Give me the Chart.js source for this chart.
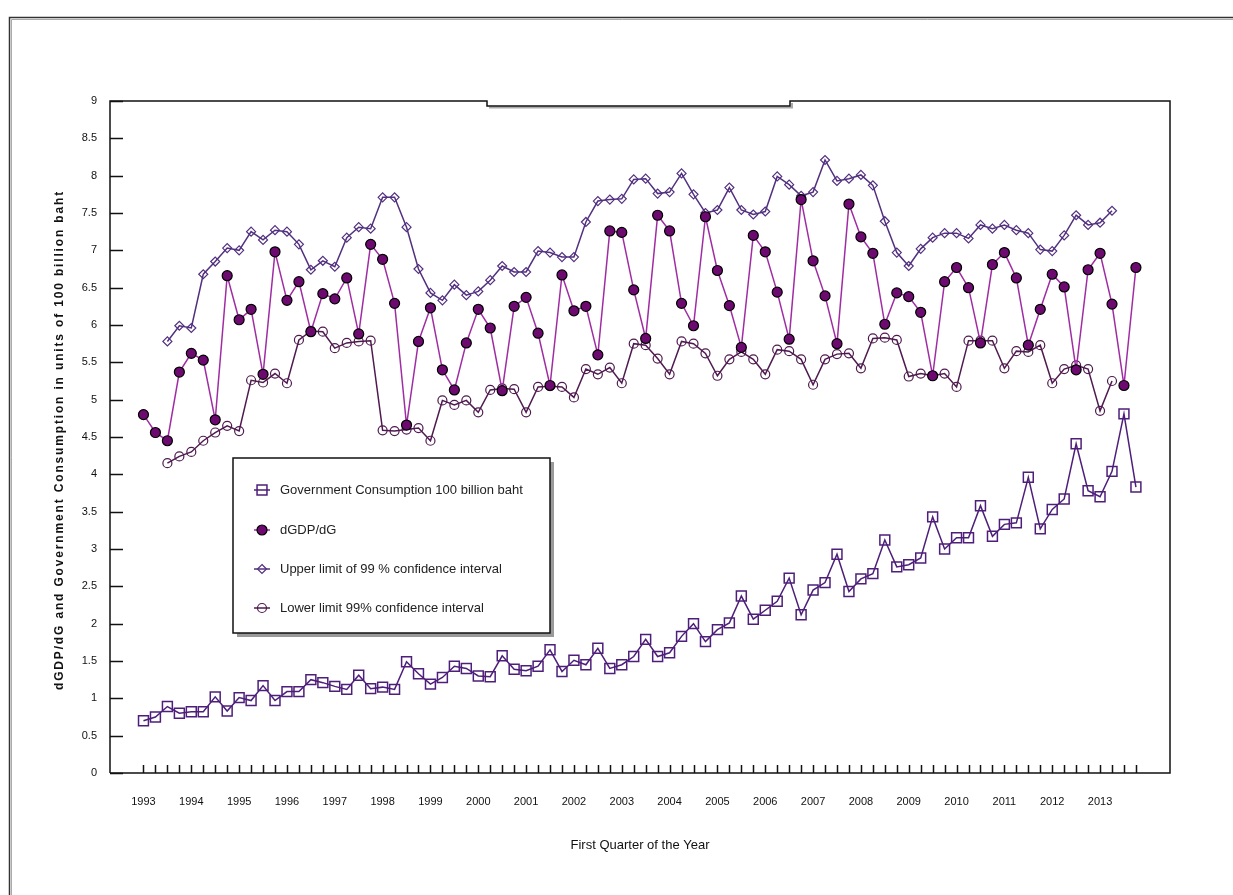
<!DOCTYPE html>
<html>
<head>
<meta charset="utf-8">
<script src="https://cdn.jsdelivr.net/npm/chart.js@4.4.0/dist/chart.umd.min.js"></script>
<style>
  html, body { margin: 0; padding: 0; background: #fff; }
  canvas { display: block; }
</style>
</head>
<body>
<canvas id="chart" width="1233" height="895"></canvas>
<script>
// Year labels, one per first quarter
const years = ['1993', '1994', '1995', '1996', '1997', '1998', '1999', '2000', '2001', '2002', '2003',
  '2004', '2005', '2006', '2007', '2008', '2009', '2010', '2011', '2012', '2013'];

// Quarterly series (1993 Q1 .. 2013 Q4)
const govConsumption = [
  0.70, 0.75, 0.89, 0.80, 0.82, 0.82, 1.02, 0.83, 1.01, 0.97, 1.17, 0.97, 1.09, 1.09, 1.25, 1.21,
  1.16, 1.12, 1.31, 1.13, 1.15, 1.12, 1.49, 1.33, 1.19, 1.28,
  1.43, 1.40, 1.30, 1.29, 1.57, 1.39, 1.37, 1.43, 1.65, 1.36, 1.51, 1.45, 1.67, 1.40, 1.45, 1.56,
  1.79, 1.56, 1.61, 1.83, 2.00, 1.76, 1.92, 2.01, 2.37, 2.06, 2.18, 2.30,
  2.61, 2.12, 2.45, 2.55, 2.93, 2.43, 2.60, 2.67, 3.12, 2.76, 2.79, 2.88, 3.43, 3.00, 3.15, 3.15,
  3.58, 3.17, 3.33, 3.35, 3.96, 3.27, 3.53, 3.67, 4.41, 3.78, 3.70, 4.04, 4.81, 3.83
];

const dGdpDg = [
  4.80, 4.56, 4.45, 5.37, 5.62, 5.53, 4.73, 6.66, 6.07, 6.21, 5.34, 6.98, 6.33, 6.58, 5.91, 6.42, 6.35, 6.63, 5.88, 7.08, 6.88,
  6.29, 4.66, 5.78, 6.23, 5.40, 5.13, 5.76, 6.21, 5.96, 5.12, 6.25, 6.37, 5.89, 5.19, 6.67, 6.19, 6.25, 5.60, 7.26, 7.24, 6.47,
  5.82, 7.47, 7.26, 6.29, 5.99, 7.45, 6.73, 6.26, 5.70, 7.20, 6.98, 6.44, 5.81, 7.68, 6.86, 6.39, 5.75, 7.62, 7.18, 6.96, 6.01,
  6.43, 6.38, 6.17, 5.32, 6.58, 6.77, 6.50, 5.76, 6.81, 6.97, 6.63, 5.73, 6.21, 6.68, 6.51, 5.40, 6.74, 6.96, 6.28, 5.19, 6.77
];

const upperLimit = [
  null, null,
  5.78, 5.99, 5.96, 6.68, 6.85, 7.03, 7.00, 7.25, 7.14, 7.27, 7.25, 7.08, 6.74, 6.86, 6.78, 7.17, 7.31, 7.29, 7.71,
  7.71, 7.31, 6.75, 6.43, 6.33, 6.54, 6.40, 6.45, 6.60, 6.79, 6.71, 6.71, 6.99, 6.97, 6.91, 6.91, 7.38, 7.66, 7.68, 7.69, 7.95,
  7.96, 7.76, 7.78, 8.03, 7.75, 7.50, 7.54, 7.84, 7.54, 7.48, 7.52, 7.99, 7.88, 7.73, 7.78, 8.21, 7.93, 7.96, 8.01, 7.87, 7.39,
  6.97, 6.79, 7.02, 7.17, 7.23, 7.23, 7.16, 7.34, 7.29, 7.34, 7.27, 7.23, 7.01, 6.99, 7.20, 7.47, 7.34, 7.37, 7.53,
  null, null
];

const lowerLimit = [
  null, null,
  4.15, 4.24, 4.30, 4.45, 4.56, 4.65, 4.58, 5.26, 5.23, 5.35, 5.22, 5.80, 5.92, 5.91, 5.69, 5.76, 5.78, 5.79, 4.59,
  4.58, 4.60, 4.62, 4.45, 4.99, 4.93, 4.99, 4.83, 5.13, 5.15, 5.14, 4.83, 5.17, 5.18, 5.17, 5.03, 5.41, 5.34, 5.43, 5.22, 5.75,
  5.73, 5.55, 5.34, 5.78, 5.75, 5.62, 5.32, 5.54, 5.64, 5.54, 5.34, 5.67, 5.65, 5.54, 5.20, 5.54, 5.61, 5.62, 5.42, 5.82, 5.83,
  5.80, 5.31, 5.35, 5.32, 5.35, 5.17, 5.79, 5.79, 5.79, 5.42, 5.65, 5.64, 5.73, 5.22, 5.41, 5.46, 5.41, 4.85, 5.25,
  null, null
];

const seriesNames = [
  'Government Consumption 100 billion baht',
  'dGDP/dG',
  'Upper limit of 99 % confidence interval',
  'Lower limit 99% confidence interval'
];

const yTitle = 'dGDP/dG and Government Consumption in units of 100 billion baht';
const xTitle = 'First Quarter of the Year';

const FONT = "'Liberation Sans Narrow', 'Arial Narrow', 'Liberation Sans', Arial, sans-serif";

// x position of each value = its quarter number
function toPoints(values) {
  return values.map((v, i) => ({ x: i, y: v }));
}

// Frame, inner tick marks, legend box and titles
const decorPlugin = {
  id: 'decor',
  afterDraw(chart) {
    const ctx = chart.ctx;
    const xs = chart.scales.x;
    const ys = chart.scales.y;
    const left = chart.chartArea.left, right = chart.chartArea.right;
    const top = chart.chartArea.top, bottom = chart.chartArea.bottom;

    ctx.save();
    // outer frame
    ctx.strokeStyle = '#aaa';
    ctx.lineWidth = 1;
    ctx.beginPath();
    ctx.moveTo(11.5, 895); ctx.lineTo(11.5, 19.5); ctx.lineTo(1233, 19.5);
    ctx.stroke();
    ctx.strokeStyle = '#333';
    ctx.lineWidth = 1.5;
    ctx.beginPath();
    ctx.moveTo(9.5, 895); ctx.lineTo(9.5, 17.5); ctx.lineTo(1233, 17.5);
    ctx.stroke();

    // plot frame (top edge has a small notch)
    ctx.strokeStyle = '#aaa';
    ctx.lineWidth = 2;
    ctx.beginPath();
    ctx.moveTo(489, 107.5); ctx.lineTo(792, 107.5); ctx.lineTo(792, 103);
    ctx.stroke();
    ctx.strokeStyle = '#111';
    ctx.lineWidth = 1.5;
    ctx.beginPath();
    ctx.moveTo(left, bottom); ctx.lineTo(left, top);
    ctx.lineTo(487, top); ctx.lineTo(487, top + 5); ctx.lineTo(790, top + 5);
    ctx.lineTo(790, top); ctx.lineTo(right, top);
    ctx.lineTo(right, bottom); ctx.lineTo(left, bottom);
    ctx.stroke();

    // tick marks pointing into the plot
    ctx.lineWidth = 1.5;
    ctx.beginPath();
    for (let v = 0; v <= 9; v += 0.5) {
      const py = Math.round(ys.getPixelForValue(v)) + 0.5;
      ctx.moveTo(left, py); ctx.lineTo(left + 13, py);
    }
    for (let q = 0; q < dGdpDg.length; q++) {
      const px = Math.round(xs.getPixelForValue(q)) + 0.5;
      ctx.moveTo(px, bottom); ctx.lineTo(px, bottom - 8);
    }
    ctx.stroke();

    // legend box with shadow
    const lx = 233, ly = 458, lw = 317, lh = 175;
    ctx.fillStyle = '#9a9a9a';
    ctx.fillRect(lx + 4, ly + 4, lw, lh);
    ctx.fillStyle = '#fff';
    ctx.fillRect(lx, ly, lw, lh);
    ctx.strokeStyle = '#111';
    ctx.lineWidth = 1.5;
    ctx.strokeRect(lx, ly, lw, lh);

    const rows = [490, 530, 569, 608];
    chart.data.datasets.forEach((ds, i) => {
      const cy = rows[i];
      ctx.strokeStyle = ds.borderColor;
      ctx.lineWidth = 1.5;
      ctx.beginPath();
      ctx.moveTo(254, cy); ctx.lineTo(270, cy);
      ctx.stroke();
      drawMarker(ctx, ds, 262, cy);
      ctx.fillStyle = '#222';
      ctx.font = '13px ' + FONT;
      ctx.textAlign = 'left';
      ctx.textBaseline = 'middle';
      ctx.fillText(ds.label, 280, cy);
    });

    // axis titles
    ctx.fillStyle = '#111';
    ctx.font = '13px ' + FONT;
    ctx.textAlign = 'center';
    ctx.textBaseline = 'middle';
    ctx.fillText(xTitle, 640, 845);

    ctx.translate(60, 440);
    ctx.rotate(-Math.PI / 2);
    ctx.font = 'bold 12px ' + FONT;
    const w = ctx.measureText(yTitle).width;
    ctx.letterSpacing = Math.max(0, (500 - w) / yTitle.length) + 'px';
    ctx.fillText(yTitle, 0, 0);
    ctx.restore();
  }
};

function drawMarker(ctx, ds, x, y) {
  const r = ds.pointRadius;
  ctx.save();
  ctx.fillStyle = ds.pointBackgroundColor;
  ctx.strokeStyle = ds.pointBorderColor;
  ctx.lineWidth = ds.pointBorderWidth;
  ctx.beginPath();
  if (ds.pointStyle === 'rect') {
    const s = r * Math.SQRT1_2;
    ctx.rect(x - s, y - s, 2 * s, 2 * s);
  } else if (ds.pointStyle === 'rectRot') {
    ctx.moveTo(x, y - r); ctx.lineTo(x + r, y); ctx.lineTo(x, y + r); ctx.lineTo(x - r, y); ctx.closePath();
  } else {
    ctx.arc(x, y, r, 0, Math.PI * 2);
  }
  ctx.fill();
  ctx.stroke();
  ctx.restore();
}

const datasets = [
  {
    label: seriesNames[0],
    data: toPoints(govConsumption),
    borderColor: '#4e1f7a',
    borderWidth: 1.5,
    pointStyle: 'rect',
    pointRadius: 7,
    pointBackgroundColor: 'rgba(255,255,255,0)',
    pointBorderColor: '#4e1f7a',
    pointBorderWidth: 1.5
  },
  {
    label: seriesNames[1],
    data: toPoints(dGdpDg),
    borderColor: '#a02ca3',
    borderWidth: 1.5,
    pointStyle: 'circle',
    pointRadius: 5,
    pointBackgroundColor: '#6c0a6f',
    pointBorderColor: '#000',
    pointBorderWidth: 1.2
  },
  {
    label: seriesNames[2],
    data: toPoints(upperLimit),
    borderColor: '#52307f',
    borderWidth: 1.5,
    pointStyle: 'rectRot',
    pointRadius: 4.5,
    pointBackgroundColor: 'rgba(255,255,255,0)',
    pointBorderColor: '#52307f',
    pointBorderWidth: 1.2
  },
  {
    label: seriesNames[3],
    data: toPoints(lowerLimit),
    borderColor: '#4f1a4f',
    borderWidth: 1.5,
    pointStyle: 'circle',
    pointRadius: 4.5,
    pointBackgroundColor: 'rgba(255,255,255,0)',
    pointBorderColor: '#4f1a4f',
    pointBorderWidth: 1.2
  }
];

new Chart(document.getElementById('chart'), {
  type: 'line',
  data: { datasets: datasets },
  options: {
    responsive: false,
    animation: false,
    spanGaps: false,
    layout: { padding: { left: 48, top: 101, right: 63, bottom: 0 } },
    plugins: {
      legend: { display: false },
      tooltip: { enabled: false }
    },
    scales: {
      x: {
        type: 'linear',
        min: -2.8,
        max: 85.85,
        afterFit: (s) => { s.height = 122; },
        afterBuildTicks: (s) => { s.ticks = years.map((y, i) => ({ value: i * 4 })); },
        grid: { display: false, drawTicks: false },
        border: { display: false },
        ticks: {
          autoSkip: false,
          maxRotation: 0,
          padding: 22,
          color: '#111',
          font: { family: FONT, size: 11 },
          callback: (v) => years[v / 4]
        }
      },
      y: {
        min: 0,
        max: 9,
        afterFit: (s) => { s.width = 62; },
        grid: { display: false, drawTicks: false },
        border: { display: false },
        ticks: {
          stepSize: 0.5,
          padding: 13,
          color: '#111',
          font: { family: FONT, size: 11 },
          callback: (v) => String(v)
        }
      }
    }
  },
  plugins: [decorPlugin]
});
</script>
</body>
</html>
